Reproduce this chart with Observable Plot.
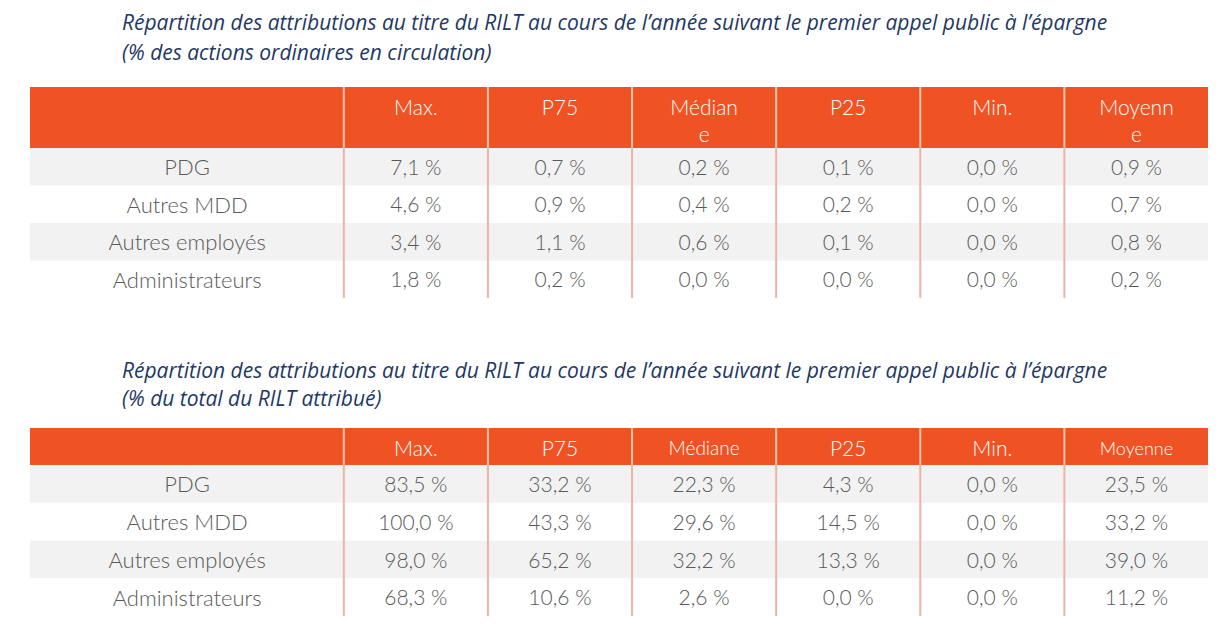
<!DOCTYPE html>
<html>
<head>
<meta charset="utf-8">
<script src="https://cdn.jsdelivr.net/npm/d3@7"></script>
<script src="https://cdn.jsdelivr.net/npm/@observablehq/plot@0.6"></script>
<style>
  html, body { margin: 0; padding: 0; background: #ffffff; }
  #root { position: relative; width: 1224px; height: 630px; overflow: hidden; }
  .title { position: absolute; left: 122px; font-family: "Open Sans", Lato, sans-serif; font-style: italic;
           font-weight: 400; font-size: 20px; color: #1F3864; white-space: nowrap; }
  .title span { display: inline-block; }
  .tbl { position: absolute; left: 0; }
  svg { display: block; }
</style>
</head>
<body>
<div id="root">
  <div class="title" id="title1" style="top:7px; line-height:30px;"></div>
  <div class="tbl" id="t1" style="top:87px;"></div>
  <div class="title" id="title2" style="top:356px; line-height:28px;"></div>
  <div class="tbl" id="t2" style="top:428px;"></div>
</div>
<script>
// ---------- data ----------
const rowLabels = ["PDG", "Autres MDD", "Autres employés", "Administrateurs"];
const statLabels1 = ["Max.", "P75", "Médian\ne", "P25", "Min.", "Moyenn\ne"];
const statLabels2 = ["Max.", "P75", "Médiane", "P25", "Min.", "Moyenne"];
const title1Lines = [
  "Répartition des attributions au titre du RILT au cours de l’année suivant le premier appel public à l’épargne",
  "(% des actions ordinaires en circulation)"
];
const title2Lines = [
  "Répartition des attributions au titre du RILT au cours de l’année suivant le premier appel public à l’épargne",
  "(% du total du RILT attribué)"
];
// Table 1: % des actions ordinaires en circulation (one array per statistic, rows in rowLabels order)
const sharesMax = [7.1, 4.6, 3.4, 1.8];
const sharesP75 = [0.7, 0.9, 1.1, 0.2];
const sharesMedian = [0.2, 0.4, 0.6, 0.0];
const sharesP25 = [0.1, 0.2, 0.1, 0.0];
const sharesMin = [0.0, 0.0, 0.0, 0.0];
const sharesMean = [0.9, 0.7, 0.8, 0.2];
// Table 2: % du total du RILT attribué
const totalMax = [83.5, 100.0, 98.0, 68.3];
const totalP75 = [33.2, 43.3, 65.2, 10.6];
const totalMedian = [22.3, 29.6, 32.2, 2.6];
const totalP25 = [4.3, 14.5, 13.3, 0.0];
const totalMin = [0.0, 0.0, 0.0, 0.0];
const totalMean = [23.5, 33.2, 39.0, 11.2];

// ---------- style / layout constants ----------
const ORANGE = "#F05323";
const BAND = "#F2F2F2";
const SEP_BODY = "#F2B29C";
const SEP_HEAD = "#F7C3B1";
const CELL_TEXT = "#595959";
const FONT = "Lato, 'Open Sans', sans-serif";
const CELL_SIZE = 21;
const LABEL_SIZE = 22;
const TITLE_WIDTH = 985;             // width of the first title line in the reference
const FIRST_COL_UNITS = 2.174;       // width of label column relative to a stat column
const NCOLS = 6;
const X_TOTAL = FIRST_COL_UNITS + NCOLS;

const fmt = v => d3.format(".1f")(v).replace(".", ",") + "\u00a0%";

function buildTable(el, {labels, series, headerUnits, height, headerY, headerAnchor, headerSizes}) {
  const yTotal = headerUnits + rowLabels.length;
  const colCenter = c => FIRST_COL_UNITS + c + 0.5;
  const rowTop = r => headerUnits + r;

  const cells = [];
  series.forEach((vals, c) => vals.forEach((v, r) => cells.push({r, c, v})));
  const rowsData = rowLabels.map((label, r) => ({label, r}));
  const headData = labels.map((label, c) => ({label, c}));
  const seps = d3.range(NCOLS).map(c => FIRST_COL_UNITS + c);

  const plot = Plot.plot({
    width: 1224,
    height,
    marginLeft: 30,
    marginRight: 16,
    marginTop: 0,
    marginBottom: 0,
    x: {type: "linear", domain: [0, X_TOTAL], axis: null},
    y: {type: "linear", domain: [0, yTotal], range: [0, height], axis: null},
    style: {fontFamily: FONT, background: "white", overflow: "visible"},
    marks: [
      // header band
      Plot.rect([0], {x1: 0, x2: X_TOTAL, y1: 0, y2: headerUnits, fill: ORANGE}),
      // alternating grey row bands
      Plot.rect(rowsData.filter(d => d.r % 2 === 0),
        {x1: 0, x2: X_TOTAL, y1: d => rowTop(d.r), y2: d => rowTop(d.r) + 1, fill: BAND}),
      // column separators (header part + body part)
      Plot.ruleX(seps, {y1: 0, y2: headerUnits, stroke: SEP_HEAD, strokeWidth: 2}),
      Plot.ruleX(seps, {y1: headerUnits, y2: yTotal, stroke: SEP_BODY, strokeWidth: 2}),
      // header labels
      Plot.text(headData, {
        x: d => colCenter(d.c), y: headerY, text: "label",
        fill: "white", fontSize: d => headerSizes[d.label] || CELL_SIZE, fontWeight: 300,
        lineAnchor: headerAnchor, lineHeight: 1.3
      }),
      // row labels
      Plot.text(rowsData, {
        x: FIRST_COL_UNITS / 2, y: d => rowTop(d.r) + 0.5, text: "label",
        fill: CELL_TEXT, fontSize: LABEL_SIZE, fontWeight: 300, lineAnchor: "middle", dy: 1
      }),
      // values
      Plot.text(cells, {
        x: d => colCenter(d.c), y: d => rowTop(d.r) + 0.5, text: d => fmt(d.v),
        fill: CELL_TEXT, fontSize: CELL_SIZE, fontWeight: 300, lineAnchor: "middle", dy: 1
      })
    ]
  });
  el.appendChild(plot);
}

function setTitle(id, lines) {
  const el = document.getElementById(id);
  el.innerHTML = lines.map(l => `<span>${l}</span>`).join("<br>");
  const w = el.querySelector("span").getBoundingClientRect().width;
  if (w > 0) el.style.fontSize = (20 * TITLE_WIDTH / w).toFixed(2) + "px";
}
setTitle("title1", title1Lines);
setTitle("title2", title2Lines);

buildTable(document.getElementById("t1"), {
  labels: statLabels1,
  series: [sharesMax, sharesP75, sharesMedian, sharesP25, sharesMin, sharesMean],
  headerUnits: 61 / 37.5,
  height: 211,
  headerY: 8 / 37.5,
  headerAnchor: "top",
  headerSizes: {}
});
buildTable(document.getElementById("t2"), {
  labels: statLabels2,
  series: [totalMax, totalP75, totalMedian, totalP25, totalMin, totalMean],
  headerUnits: 37 / 37.75,
  height: 188,
  headerY: (37 / 37.75) / 2,
  headerAnchor: "middle",
  headerSizes: {"Médiane": 19, "Moyenne": 18}
});
</script>
</body>
</html>
